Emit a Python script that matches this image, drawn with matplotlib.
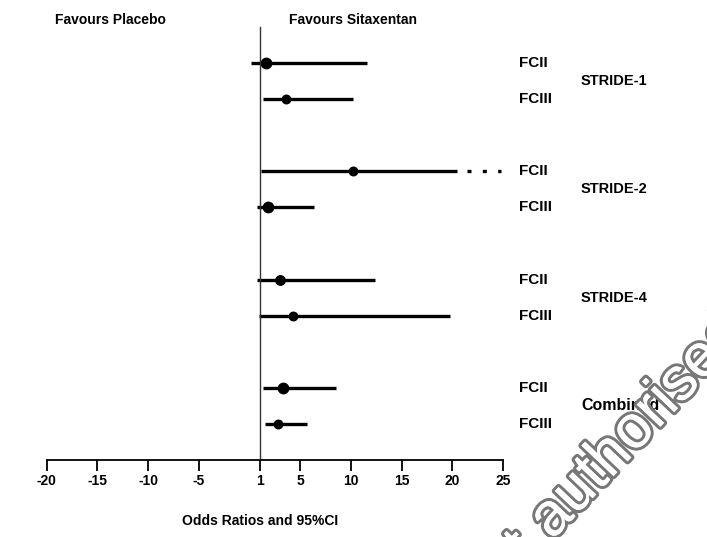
import matplotlib
matplotlib.use("Agg")
import matplotlib.pyplot as plt
import matplotlib.patheffects as pe

##############################################
# Data
##############################################
studies = ["STRIDE-1", "STRIDE-2", "STRIDE-4", "Combined"]
classes = ["FCII", "FCIII"]
odds_ratio = [1.6, 3.6, 10.2, 1.8, 3.0, 4.3, 3.3, 2.8]
ci_low = [0.2, 1.3, 1.1, 0.7, 0.7, 0.9, 1.3, 1.5]
ci_high = [11.6, 10.2, 20.5, 6.35, 12.4, 19.8, 8.5, 5.7]
# STRIDE-2 FCII upper limit runs off the scale
ci_beyond = [None, None, 24.8, None, None, None, None, None]
marker_px = [11, 9, 9, 11, 10, 9, 11, 9]
xticks = [-20, -15, -10, -5, 1, 5, 10, 15, 20, 25]

# row positions: two rows per study, a gap between studies
rows = []
for i in range(len(studies)):
    rows += [3 * i, 3 * i + 1]

##############################################
# Plot
##############################################
plt.rcParams['font.family'] = ['Liberation Sans', 'DejaVu Sans']
plt.rcParams['font.weight'] = 'bold'

fig = plt.figure(figsize=(7.07, 5.37), dpi=100)
ax = fig.add_axes([0.0659, 0.1434, 0.6455, 0.8063])

for y, m, lo, hi, ext, ms in zip(rows, odds_ratio, ci_low, ci_high, ci_beyond, marker_px):
    ax.plot([lo, hi], [y, y], color="black", lw=2.4, solid_capstyle="butt")
    if ext is not None:
        ax.plot([hi + 1, ext], [y, y], color="black", lw=2.4,
                linestyle=(0, (1.2, 3.4)), solid_capstyle="butt", clip_on=False)
    ax.plot(m, y, "o", color="black", ms=ms * 0.68)

ax.set_xlim(-20, 25)
ax.set_ylim(11, -1)

ax.spines['top'].set_visible(False)
ax.spines['right'].set_visible(False)
ax.spines['left'].set_position(('data', 1))
ax.spines['left'].set_color("#333333")
ax.spines['left'].set_linewidth(1.0)
ax.spines['bottom'].set_linewidth(1.3)
ax.set_yticks([])
ax.set_xticks(xticks)
ax.set_xticklabels([str(t) for t in xticks])
ax.tick_params(axis='x', direction='out', length=8, width=1.3, pad=2, labelsize=10)

# row and study labels on the right
for i, s in enumerate(studies):
    for j, c in enumerate(classes):
        ax.text(26.6, rows[2 * i + j], c, fontsize=11, fontweight='bold',
                va='center', ha='left', clip_on=False)
    ax.text(32.7, 3 * i + 0.5, s, fontsize=10.5 if s != "Combined" else 11.5,
            fontweight='bold', va='center', ha='left', clip_on=False)

fig.text(0.156, 0.963, "Favours Placebo", fontsize=10, fontweight='bold', ha='center', va='center')
fig.text(0.4995, 0.963, "Favours Sitaxentan", fontsize=10, fontweight='bold', ha='center', va='center')
fig.text(0.368, 0.030, "Odds Ratios and 95%CI", fontsize=10, fontweight='bold', ha='center', va='center')

# watermark, runs off the lower right corner
wm_style = dict(fontsize=44, rotation=46.5, rotation_mode='anchor', color="white",
                va='baseline', family='Liberation Sans', fontweight='normal', zorder=10,
                path_effects=[pe.withStroke(linewidth=4.5, foreground="#777777"), pe.Normal()])
fig.text(0.781, -0.007, "authorised", ha='left', **wm_style)
fig.text(0.764, -0.030, "Not", ha='right', **wm_style)

fig.savefig("out.png", dpi=100)
